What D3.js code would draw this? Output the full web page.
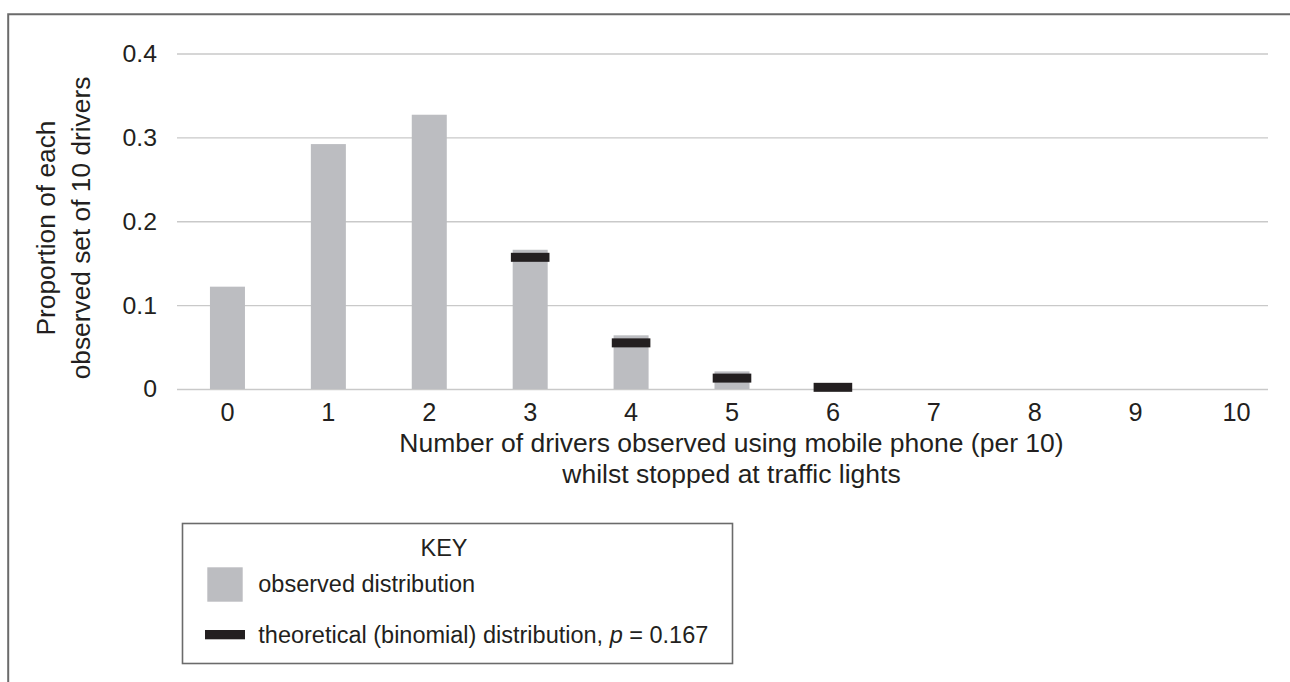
<!DOCTYPE html>
<html>
<head>
<meta charset="utf-8">
<script src="https://cdn.jsdelivr.net/npm/d3@7"></script>
<style>
  body { margin: 0; background: #ffffff; }
  svg { display: block; }
  text { font-family: "Liberation Sans", Arial, Helvetica, sans-serif; fill: #231f20; }
</style>
</head>
<body>
<svg id="chart" width="1290" height="682"></svg>
<script>
// Number of drivers (out of 10) seen using a phone
const categories = [0, 1, 2, 3, 4, 5, 6, 7, 8, 9, 10];
// Observed proportion of each set of 10 drivers
const observed = [0.122, 0.292, 0.327, 0.166, 0.064, 0.021, 0, 0, 0, 0, 0];
// Theoretical binomial proportions (p = 0.167), shown for 3 to 6
const theoreticalCategories = [3, 4, 5, 6];
const theoreticalValues = [0.157, 0.055, 0.013, 0.002];
// Value axis ticks
const yTicks = [0, 0.1, 0.2, 0.3, 0.4];
const yTickLabels = ["0", "0.1", "0.2", "0.3", "0.4"];

const svg = d3.select("#chart");

const plotLeft = 177, plotRight = 1268, plotTop = 53.5, plotBottom = 389;

const x = d3.scaleBand()
  .domain(categories)
  .range([plotLeft, 1287])
  .paddingInner(0.653)
  .paddingOuter(0.3265)
  .align(0.5);

const y = d3.scaleLinear()
  .domain([0, 0.4])
  .range([plotBottom, plotTop]);

// Outer frame (top and left rules)
svg.append("path")
  .attr("d", `M8.2,682 V14.3 H1290`)
  .attr("fill", "none")
  .attr("stroke", "#6b6b6b")
  .attr("stroke-width", 2);

// Gridlines and value labels
const yAxis = svg.append("g")
  .attr("transform", `translate(${plotLeft},0)`)
  .call(d3.axisLeft(y)
    .tickValues(yTicks)
    .tickFormat((d, i) => yTickLabels[i])
    .tickSize(-(plotRight - plotLeft))
    .tickPadding(20));
yAxis.select(".domain").remove();
yAxis.selectAll(".tick line")
  .attr("stroke", "#c9c9c9")
  .attr("stroke-width", 1.4);
yAxis.selectAll(".tick text")
  .style("font-size", "24.8px")
  .attr("fill", "#231f20");
yAxis.attr("font-family", null).attr("font-size", null);

// Observed distribution bars
svg.append("g")
  .selectAll("rect")
  .data(categories.map((c, i) => ({ c, v: observed[i] })).filter(d => d.v > 0))
  .join("rect")
  .attr("x", d => x(d.c))
  .attr("width", x.bandwidth())
  .attr("y", d => y(d.v))
  .attr("height", d => y(0) - y(d.v))
  .attr("fill", "#bcbdc1");

// Theoretical binomial markers
const markW = 38.6, markH = 9;
svg.append("g")
  .selectAll("rect")
  .data(theoreticalCategories.map((c, i) => ({ c, v: theoreticalValues[i] })))
  .join("rect")
  .attr("x", d => x(d.c) + x.bandwidth() / 2 - markW / 2)
  .attr("y", d => y(d.v) - markH / 2)
  .attr("width", markW)
  .attr("height", markH)
  .attr("fill", "#231f20");

// Category labels
const xAxis = svg.append("g")
  .attr("transform", `translate(0,${plotBottom})`)
  .call(d3.axisBottom(x).tickSize(0).tickPadding(14));
xAxis.select(".domain").remove();
xAxis.attr("font-family", null).attr("font-size", null);
xAxis.selectAll(".tick text")
  .style("font-size", "25.3px")
  .attr("fill", "#231f20");

// Axis titles
const xTitle = svg.append("text")
  .attr("text-anchor", "middle")
  .style("font-size", "26.5px");
xTitle.append("tspan").attr("x", 731.5).attr("y", 451.7)
  .text("Number of drivers observed using mobile phone (per 10)");
xTitle.append("tspan").attr("x", 731.5).attr("y", 483.3)
  .text("whilst stopped at traffic lights");

svg.append("text")
  .attr("text-anchor", "middle")
  .attr("transform", "translate(55,228) rotate(-90)")
  .style("font-size", "26.3px")
  .text("Proportion of each");
svg.append("text")
  .attr("text-anchor", "middle")
  .attr("transform", "translate(90,228) rotate(-90)")
  .style("font-size", "26.3px")
  .text("observed set of 10 drivers");

// Key
const key = svg.append("g");
key.append("rect")
  .attr("x", 182.5).attr("y", 523.5)
  .attr("width", 550).attr("height", 140)
  .attr("fill", "none")
  .attr("stroke", "#6b6b6b")
  .attr("stroke-width", 1.6);
key.append("text")
  .attr("x", 444).attr("y", 556)
  .attr("text-anchor", "middle")
  .style("font-size", "23.5px")
  .text("KEY");
key.append("rect")
  .attr("x", 207.3).attr("y", 567.3)
  .attr("width", 35.4).attr("height", 34.4)
  .attr("fill", "#bcbdc1");
key.append("text")
  .attr("x", 258.3).attr("y", 591.7)
  .style("font-size", "23.5px")
  .text("observed distribution");
key.append("rect")
  .attr("x", 205).attr("y", 630)
  .attr("width", 40).attr("height", 9.3)
  .attr("fill", "#231f20");
const t2 = key.append("text")
  .attr("x", 258.3).attr("y", 643.3)
  .style("font-size", "23.5px");
t2.append("tspan").text("theoretical (binomial) distribution, ");
t2.append("tspan").style("font-style", "italic").text("p");
t2.append("tspan").text(" = 0.167");
</script>
</body>
</html>
